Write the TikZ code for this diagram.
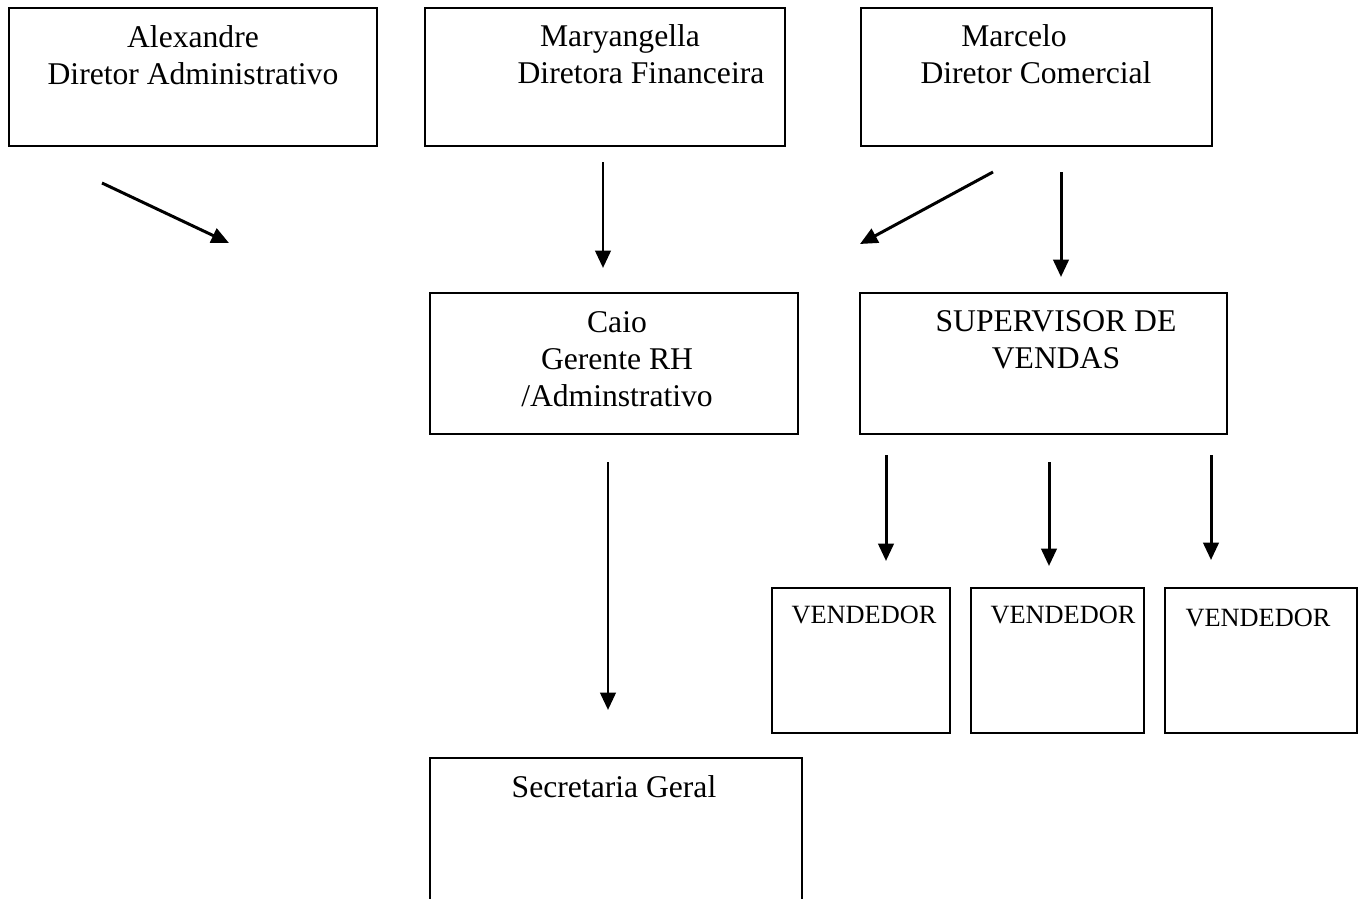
\documentclass[tikz,border=0pt]{standalone}
\usepackage{fontspec}
\setmainfont{Liberation Serif}
\usetikzlibrary{arrows.meta,positioning}
\tikzset{
  box/.style={draw, line width=0.9pt, rectangle, anchor=north west, inner sep=0pt},
  lbl/.style={align=center, anchor=base, inner sep=0pt, font=\fontsize{18}{21}\selectfont},
  small/.style={anchor=base, inner sep=0pt, font=\fontsize{15}{18}\selectfont},
  arr/.style={-{Triangle[length=0.35cm,width=0.31cm]}, line width=1.7pt}
}
\begin{document}
\begin{tikzpicture}[x=0.02cm, y=-0.02cm]
\clip (0,0) rectangle (1363,899);
% boxes
\node[box, minimum width=7.36cm, minimum height=2.76cm] (alex) at (8,7) {};
\node[box, minimum width=7.2cm, minimum height=2.76cm] (mary) at (424,7) {};
\node[box, minimum width=7.02cm, minimum height=2.76cm] (marc) at (860,7) {};
\node[box, minimum width=7.36cm, minimum height=2.82cm] (caio) at (429,292) {};
\node[box, minimum width=7.34cm, minimum height=2.82cm] (sup) at (859,292) {};
\node[box, minimum width=3.56cm, minimum height=2.9cm] (vend1) at (771,587) {};
\node[box, minimum width=3.46cm, minimum height=2.9cm] (vend2) at (970,587) {};
\node[box, minimum width=3.84cm, minimum height=2.9cm] (vend3) at (1164,587) {};
\node[box, minimum width=7.44cm, minimum height=3.4cm] (sec) at (429,757) {};
% texts (base = last line)
\node[lbl] (alexT) at (193,84) {Alexandre\\Diretor Administrativo};
\node[lbl] (maryT) at (620,83) {Maryangella\\\hspace*{0.84cm}Diretora Financeira};
\node[lbl] (marcT) at (1014,83) {Marcelo\\\hspace*{0.88cm}Diretor Comercial};
\node[lbl] (caioT) at (617,406) {Caio\\Gerente RH\\/Adminstrativo};
\node[lbl] (supT) at (1056,368) {SUPERVISOR DE\\VENDAS};
\node[small] (vend1T) at (864,623) {VENDEDOR};
\node[small] (vend2T) at (1063,623) {VENDEDOR};
\node[small] (vend3T) at (1258,626) {VENDEDOR};
\node[lbl] (secT) at (614,797) {Secretaria Geral};
% arrow ends
\coordinate (a1s) at (102,183); \coordinate (a1e) at (229,243);
\coordinate (a2s) at (603,162); \coordinate (a2e) at (603,268);
\coordinate (a3s) at (993,172); \coordinate (a3e) at (860,244);
\coordinate (a4s) at (1061,172); \coordinate (a4e) at (1061,277);
\coordinate (a5s) at (608,462); \coordinate (a5e) at (608,710);
\coordinate (a6s) at (886,455); \coordinate (a6e) at (886,561);
\coordinate (a7s) at (1049,462); \coordinate (a7e) at (1049,566);
\coordinate (a8s) at (1211,455); \coordinate (a8e) at (1211,560);
\draw[arr] (a1s) -- (a1e);
\draw[arr] (a2s) -- (a2e);
\draw[arr] (a3s) -- (a3e);
\draw[arr] (a4s) -- (a4e);
\draw[arr] (a5s) -- (a5e);
\draw[arr] (a6s) -- (a6e);
\draw[arr] (a7s) -- (a7e);
\draw[arr] (a8s) -- (a8e);
\end{tikzpicture}
\end{document}
